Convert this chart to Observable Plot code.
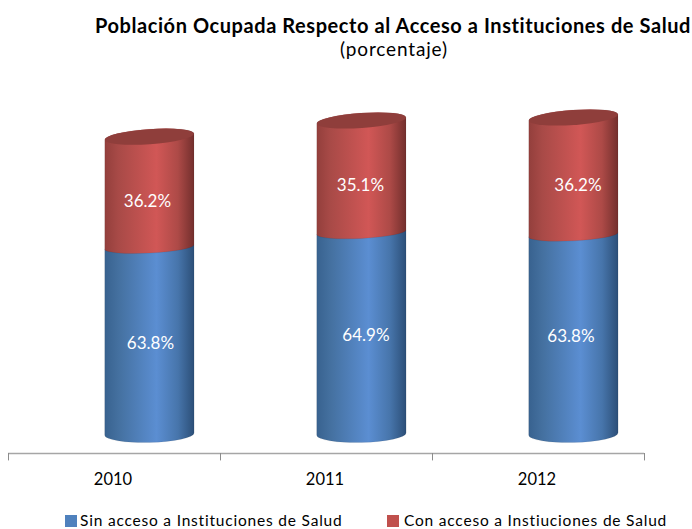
<!DOCTYPE html>
<html lang="es">
<head>
<meta charset="utf-8">
<script src="https://cdn.jsdelivr.net/npm/d3@7"></script>
<script src="https://cdn.jsdelivr.net/npm/@observablehq/plot@0.6"></script>
<style>
html,body{margin:0;padding:0;background:#fff;width:692px;height:529px;overflow:hidden;font-family:Lato,sans-serif;color:#000}
#head{position:relative;height:62px}
#title{position:absolute;left:95px;top:13px;font-weight:700;font-size:20px;line-height:24px;letter-spacing:.57px;white-space:nowrap}
#sub{position:absolute;left:340px;top:37px;font-size:19px;line-height:24px;letter-spacing:.85px;white-space:nowrap}
#chart{height:443px}
#chart svg{display:block}
#legend{position:relative;height:24px}
.sw{position:absolute;top:10px;width:12px;height:12px}
.lb{position:absolute;top:5px;font-size:15.5px;line-height:20px;letter-spacing:.8px;white-space:nowrap}
</style>
</head>
<body>
<div id="head"><div id="title"></div><div id="sub"></div></div>
<div id="chart"></div>
<div id="legend"></div>
<script>
const titleText = "Población Ocupada Respecto al Acceso a Instituciones de Salud";
const subtitleText = "(porcentaje)";
const years = [2010, 2011, 2012];
const tickEdges = [2009.5, 2010.5, 2011.5, 2012.5];
// Heights as drawn in the picture (they are not proportional to the printed labels)
const sinDrawn = [62.3, 67.2, 66.4];
const conDrawn = [36.8, 37.3, 39.1];
const sinLabels = ["63.8%", "64.9%", "63.8%"];
const conLabels = ["36.2%", "35.1%", "36.2%"];
const seriesNames = ["Sin acceso a Instituciones de Salud", "Con acceso a Instiuciones de Salud"];
const seriesColors = ["#4f81bd", "#c0504d"];

document.getElementById("title").textContent = titleText;
document.getElementById("sub").textContent = subtitleText;

const sinSegments = years.map((year, i) => ({year, base: 0, top: sinDrawn[i], label: sinLabels[i], kind: "blue"}));
const conSegments = years.map((year, i) => ({year, base: sinDrawn[i], top: sinDrawn[i] + conDrawn[i], label: conLabels[i], kind: "red"}));
const segments = [...sinSegments, ...conSegments];

const barOffset = 35.4, a = 44.7;
const rims = {
  blue: {low: {b: 8.5, tilt: 1.5}, high: {b: 6, tilt: 3}},
  red: {low: {b: 6, tilt: 3}, high: {b: 7.5, tilt: 4}}
};

function cylinders(index, scales, values) {
  const root = d3.create("svg:g");
  const defs = root.append("defs");
  const grads = {
    blue: [["0", "#38628f"], [".15", "#44709f"], [".58", "#5b8ed2"], [".82", "#4775ab"], ["1", "#2c4f78"]],
    red: [["0", "#933f3c"], [".15", "#a84a47"], [".58", "#d15756"], [".82", "#ad4a47"], ["1", "#732f2d"]]
  };
  for (const k in grads) {
    const g = defs.append("linearGradient").attr("id", "grad-" + k);
    grads[k].forEach(([o, c]) => g.append("stop").attr("offset", o).attr("stop-color", c));
  }
  const caps = {blue: "#3f6797", red: "#8f3e3b"};
  for (const i of index) {
    const d = segments[i], {low, high} = rims[d.kind];
    const cx = values.x[i] + barOffset, y0 = values.y1[i], y1 = values.y2[i];
    const ends = r => [a * Math.cos(r.tilt * Math.PI / 180), a * Math.sin(r.tilt * Math.PI / 180)];
    const [cl, sl] = ends(low), [ch, sh] = ends(high);
    const body = `M${cx - ch} ${y1 + sh}L${cx - cl} ${y0 + sl}` +
      `A${a} ${low.b} ${-low.tilt} 0 0 ${cx + cl} ${y0 - sl}` +
      `L${cx + ch} ${y1 - sh}` +
      `A${a} ${high.b} ${-high.tilt} 0 0 ${cx - ch} ${y1 + sh}Z`;
    root.append("path").attr("d", body).attr("fill", `url(#grad-${d.kind})`)
      .attr("stroke", "#000").attr("stroke-opacity", .07).attr("stroke-width", 1);
    if (d.kind === "red") {
      root.append("ellipse").attr("cx", cx).attr("cy", y1).attr("rx", a).attr("ry", high.b)
        .attr("transform", `rotate(${-high.tilt} ${cx} ${y1})`).attr("fill", caps.red);
    }
  }
  return root.node();
}

// small horizontal shifts of the printed labels inside each cylinder
const sinNudge = new Map(years.map((y, i) => [y, [0.5, 4, -3][i]]));
const conNudge = new Map(years.map((y, i) => [y, [-2.5, -1.5, 4][i]]));
const step = 212;

const labelStyle = {
  y: d => (d.base + d.top) / 2, text: "label", dx: barOffset,
  fill: "#fff", fontSize: 17, fontFamily: "Lato, sans-serif"
};

const plot = Plot.plot({
  width: 692,
  height: 443,
  marginLeft: 8,
  marginRight: 48,
  marginTop: 0,
  marginBottom: 52,
  style: {background: "transparent", overflow: "visible"},
  x: {type: "linear", domain: [2009.5, 2012.5], axis: null},
  y: {domain: [-6.33, 124], axis: null},
  marks: [
    Plot.ruleX(segments, {x: "year", y1: "base", y2: "top", render: cylinders}),
    Plot.text(sinSegments, {...labelStyle, x: d => d.year + sinNudge.get(d.year) / step, dy: 2}),
    Plot.text(conSegments, {...labelStyle, x: d => d.year + conNudge.get(d.year) / step, dy: 9}),
    Plot.ruleY([-6.33], {stroke: "#a6a6a6", strokeWidth: 1.5}),
    Plot.ruleX(tickEdges, {y1: -6.33, y2: -8.8, stroke: "#8c8c8c"}),
    Plot.text(years, {x: d => d, y: -15, text: d => String(d), dx: -1.5, fontSize: 16.5, fontFamily: "Lato, sans-serif", fill: "#000"})
  ]
});
document.getElementById("chart").append(plot);

const legend = document.getElementById("legend");
const swatchX = [65, 387], labelX = [80, 404];
seriesNames.forEach((name, i) => {
  const s = document.createElement("div");
  s.className = "sw";
  s.style.left = swatchX[i] + "px";
  s.style.background = seriesColors[i];
  legend.append(s);
  const l = document.createElement("div");
  l.className = "lb";
  l.style.left = labelX[i] + "px";
  l.textContent = name;
  legend.append(l);
});
</script>
</body>
</html>
